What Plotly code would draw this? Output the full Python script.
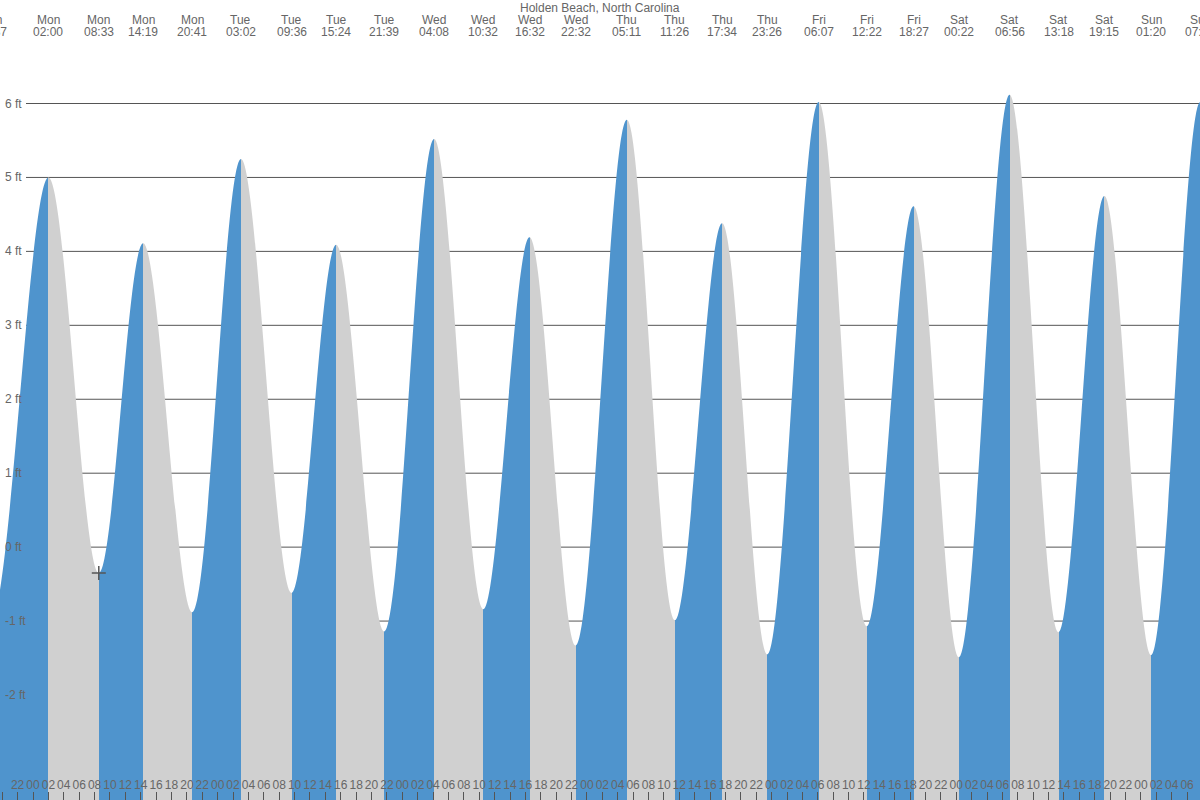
import plotly.graph_objects as go

TITLE = "Holden Beach, North Carolina"

# Tide extremes (day, time, height in ft)
tide_days = ["Sun", "Mon", "Mon", "Mon", "Mon", "Tue", "Tue", "Tue", "Tue",
             "Wed", "Wed", "Wed", "Wed", "Thu", "Thu", "Thu", "Thu",
             "Fri", "Fri", "Fri", "Sat", "Sat", "Sat", "Sat", "Sun", "Sun"]
tide_times = ["18:37", "02:00", "08:33", "14:19", "20:41", "03:02", "09:36", "15:24", "21:39",
              "04:08", "10:32", "16:32", "22:32", "05:11", "11:26", "17:34", "23:26",
              "06:07", "12:22", "18:27", "00:22", "06:56", "13:18", "19:15", "01:20", "07:43"]
tide_heights = [-0.95, 5.00, -0.35, 4.11, -0.88, 5.25, -0.62, 4.09, -1.14,
                5.52, -0.84, 4.19, -1.33, 5.78, -0.99, 4.38, -1.45,
                6.02, -1.07, 4.61, -1.49, 6.12, -1.15, 4.75, -1.46, 6.02]

# estimated neighbouring extremes just outside the visible window (shape the curve ends only)
lead_extreme = ("Sun", "12:25", 4.20)
trail_extreme = ("Sun", "14:05", -1.15)

y_tick_values = [-2, -1, 0, 1, 2, 3, 4, 5, 6]
y_tick_labels = [f"{v} ft" for v in y_tick_values]

# hours measured from Monday 00:00
x_range = [-4.29, 151.68]
y_range = [-3.42, 7.40]
bottom_tick_hours = list(range(-4, 152, 2))
bottom_tick_labels = [f"{h % 24:02d}" for h in bottom_tick_hours]
midnight_hours = list(range(0, 152, 24))

BLUE = "#4f94cd"
GREY = "#d0d0d0"
TEXT = "#666666"
LINE = "#555555"
FONT = "Liberation Sans, Arial, sans-serif"


def to_hours(days, times):
    out = []
    day_idx = -1
    prev = None
    for d, t in zip(days, times):
        if prev is not None and d != prev:
            day_idx += 1
        prev = d
        hh, mm = t.split(":")
        out.append(day_idx * 24 + int(hh) + int(mm) / 60)
    return out


curve_days = [lead_extreme[0]] + tide_days + [trail_extreme[0]]
curve_times = [lead_extreme[1]] + tide_times + [trail_extreme[1]]
curve_y = [lead_extreme[2]] + tide_heights + [trail_extreme[2]]
curve_x = to_hours(curve_days, curve_times)
hours = curve_x[1:-1]

t0, t1 = curve_x[0], curve_x[-1]
span = t1 - t0
colorscale = []
for i in range(len(curve_x) - 1):
    c = BLUE if curve_y[i + 1] > curve_y[i] else GREY
    colorscale.append([(curve_x[i] - t0) / span, c])
    colorscale.append([(curve_x[i + 1] - t0) / span, c])
colorscale[0][0] = 0.0
colorscale[-1][0] = 1.0

fig = go.Figure()
fig.add_trace(go.Scatter(x=[t0, t1], y=[y_range[0] - 1, y_range[0] - 1], mode="lines",
                         line=dict(width=0, color="rgba(0,0,0,0)"), hoverinfo="skip",
                         showlegend=False))
fig.add_trace(go.Scatter(x=curve_x, y=curve_y, mode="lines",
                         line=dict(shape="spline", smoothing=1, width=0, color="rgba(0,0,0,0)"),
                         fill="tonexty",
                         fillgradient=dict(type="horizontal", start=t0, stop=t1, colorscale=colorscale),
                         hoverinfo="skip", showlegend=False))
fig.add_trace(go.Scatter(x=[hours[2]], y=[tide_heights[2]], mode="markers",
                         marker=dict(symbol="cross-thin", size=10, line=dict(width=1.5, color=LINE)),
                         hoverinfo="skip", showlegend=False))

for v in y_tick_values:
    fig.add_shape(type="line", xref="paper", x0=26 / 1200, x1=1, yref="y", y0=v, y1=v,
                  layer="below", line=dict(color=LINE, width=1))

annotations = [dict(text=TITLE, xref="paper", x=0.5, yref="paper", y=1 - 8 / 800,
                    yanchor="middle", xanchor="center", showarrow=False,
                    font=dict(family=FONT, size=12, color=TEXT))]
for h, d, t in zip(hours, tide_days, tide_times):
    xp = (h - x_range[0]) / (x_range[1] - x_range[0])
    for txt, ypx in ((d, 19.5), (t, 32)):
        annotations.append(dict(text=txt, xref="paper", x=xp, yref="paper",
                                y=1 - ypx / 800, yanchor="middle", xanchor="center",
                                showarrow=False, font=dict(family=FONT, size=12, color=TEXT)))
for v, lab in zip(y_tick_values, y_tick_labels):
    annotations.append(dict(text=lab, xref="paper", x=0, xshift=3, yref="y", y=v,
                            xanchor="left", yanchor="middle", showarrow=False,
                            font=dict(family=FONT, size=12, color=TEXT)))

fig.update_layout(
    width=1200, height=800, margin=dict(l=0, r=0, t=0, b=0),
    paper_bgcolor="white", plot_bgcolor="white", showlegend=False,
    font=dict(family=FONT, size=12, color=TEXT),
    annotations=annotations,
    xaxis=dict(range=x_range, tickvals=bottom_tick_hours, ticktext=bottom_tick_labels,
               tickangle=0, ticks="inside", ticklen=8, tickwidth=1, tickcolor=LINE,
               ticklabelposition="inside", showgrid=False, zeroline=False, showline=False,
               tickfont=dict(family=FONT, size=12, color=TEXT), fixedrange=True),
    xaxis2=dict(range=x_range, overlaying="x", anchor="y", side="bottom",
                tickvals=midnight_hours, ticks="inside", ticklen=8, tickwidth=3, tickcolor=LINE,
                showticklabels=False, showgrid=False, zeroline=False, showline=False),
    yaxis=dict(range=y_range, showticklabels=False, ticks="", showgrid=False,
               zeroline=False, showline=False, fixedrange=True),
)

fig.write_html("out.html")
